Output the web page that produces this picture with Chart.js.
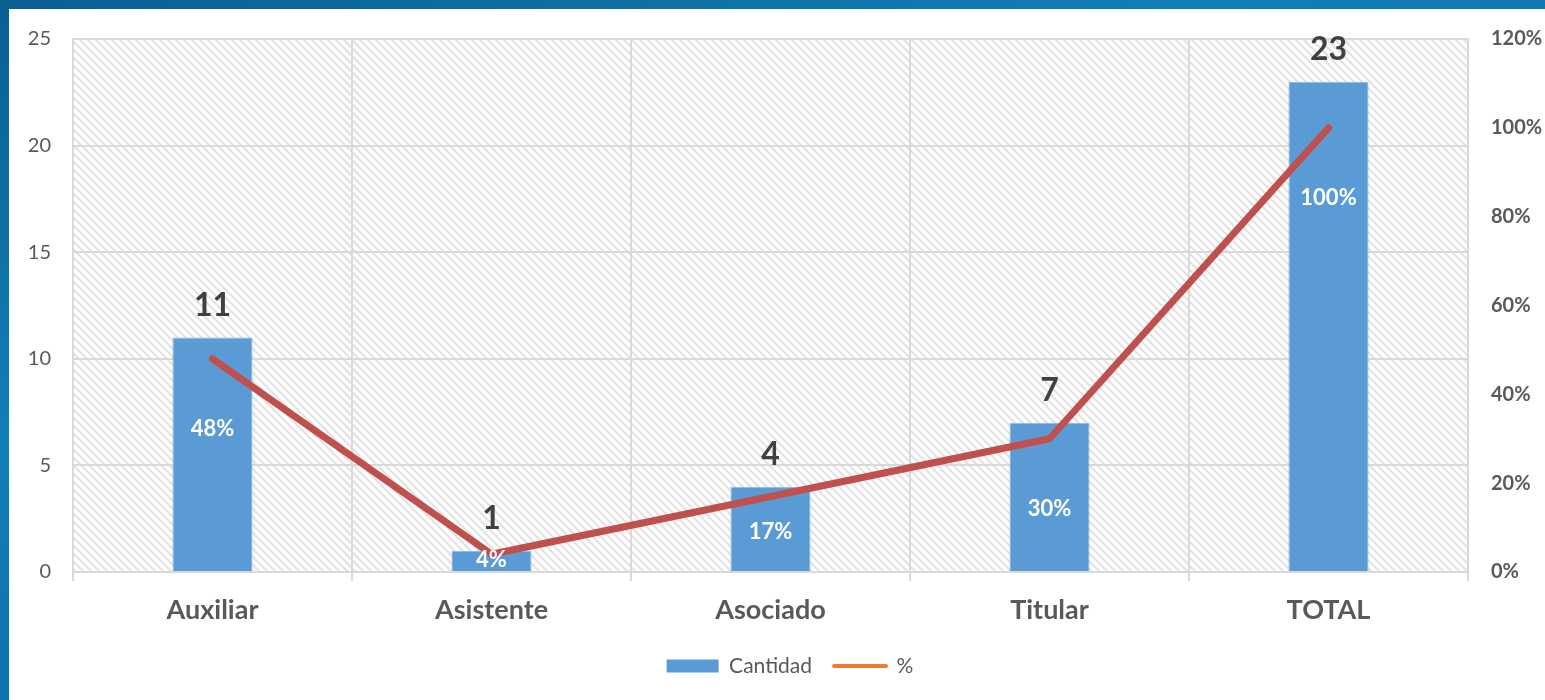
<!DOCTYPE html>
<html>
<head>
<meta charset="utf-8">
<script src="https://cdn.jsdelivr.net/npm/chart.js@4/dist/chart.umd.min.js"></script>
<style>
  html, body { margin: 0; padding: 0; }
  body {
    width: 1545px; height: 700px; overflow: hidden; position: relative;
    background: linear-gradient(160deg, #0a5f93 0%, #1180b4 35%, #0b6aa0 70%, #084f82 100%);
  }
  #panel { position: absolute; left: 9px; top: 9px; width: 1536px; height: 691px; background: #ffffff; }
  canvas { display: block; }
</style>
</head>
<body>
<div id="panel"><canvas id="chart" width="1536" height="691"></canvas></div>
<script>
// data
const categories = ["Auxiliar", "Asistente", "Asociado", "Titular", "TOTAL"];
const cantidad = [11, 1, 4, 7, 23];
const porcentaje = [48, 4, 17, 30, 100];
const leftTicks = [0, 5, 10, 15, 20, 25];
const rightTicks = [0, 20, 40, 60, 80, 100, 120];

const textGray = "#595959";
const gridGray = "#D9D9D9";
const fontName = "Lato, 'Open Sans', sans-serif";

// diagonal hatch behind the plot
const makeHatch = (ctx) => {
  const s = 8;
  const tile = document.createElement("canvas");
  tile.width = s;
  tile.height = s;
  const t = tile.getContext("2d");
  t.strokeStyle = "#E2E2E2";
  t.lineWidth = 2.2;
  t.beginPath();
  t.moveTo(0, 0); t.lineTo(s, s);
  t.moveTo(-2, s - 2); t.lineTo(2, s + 2);
  t.moveTo(s - 2, -2); t.lineTo(s + 2, 2);
  t.stroke();
  return ctx.createPattern(tile, "repeat");
};

const hatchPlugin = {
  id: "hatch",
  afterLayout(chart) {
    // legend sits a little right of centre in the original
    chart.legend.left += 26;
  },
  beforeDraw(chart) {
    const { ctx, chartArea: a } = chart;
    ctx.save();
    ctx.fillStyle = makeHatch(ctx);
    ctx.fillRect(a.left, a.top, a.right - a.left, a.bottom - a.top);
    ctx.restore();
  },
};

// value labels over bars and percentage labels inside them
const labelPlugin = {
  id: "labels",
  afterDatasetsDraw(chart) {
    const { ctx, chartArea: a } = chart;
    const bars = chart.getDatasetMeta(0).data;
    const pts = chart.getDatasetMeta(1).data;
    ctx.save();
    ctx.textAlign = "center";
    ctx.textBaseline = "middle";
    bars.forEach((bar, i) => {
      ctx.fillStyle = "#404040";
      ctx.font = "bold 32px " + fontName;
      ctx.fillText(String(cantidad[i]), bar.x, bar.y - 32);

      let y = Math.min(pts[i].y + 70, a.bottom - 40);
      if (y < pts[i].y + 6) y = a.bottom - 12;
      ctx.fillStyle = "#ffffff";
      ctx.font = "bold 22px " + fontName;
      ctx.fillText(porcentaje[i] + "%", bar.x, y);
    });
    ctx.restore();
  },
};

// vertical axes: fixed width, no extra label padding at top/bottom
const fitVertical = (w) => (s) => {
  s.width = w;
  s.paddingTop = 0;
  s.paddingBottom = 0;
};

const myChart = new Chart(document.getElementById("chart"), {
  type: "bar",
  plugins: [hatchPlugin, labelPlugin],
  data: {
    labels: categories,
    datasets: [
      {
        label: "Cantidad",
        data: cantidad,
        backgroundColor: "#5B9BD5",
        borderColor: "#8DB9E4",
        borderWidth: 1,
        borderSkipped: "bottom",
        barPercentage: 0.287,
        categoryPercentage: 1,
        yAxisID: "y",
        order: 1,
      },
      {
        type: "line",
        label: "%",
        data: porcentaje,
        borderColor: "#C0504D",
        backgroundColor: "#C0504D",
        borderWidth: 7,
        borderCapStyle: "round",
        borderJoinStyle: "round",
        pointRadius: 0,
        tension: 0,
        yAxisID: "y1",
        order: 0,
      },
    ],
  },
  options: {
    responsive: false,
    devicePixelRatio: 1,
    animation: false,
    layout: { padding: { top: 30, bottom: 13.5, left: 0, right: 0 } },
    plugins: {
      tooltip: { enabled: false },
      legend: {
        position: "bottom",
        labels: {
          usePointStyle: true,
          pointStyleWidth: 52,
          boxHeight: 13,
          padding: 22,
          color: textGray,
          font: { family: fontName, size: 21 },
          generateLabels: () => [
            { text: "Cantidad", fillStyle: "#5B9BD5", strokeStyle: "#5B9BD5", lineWidth: 0, pointStyle: "rect", fontColor: textGray, datasetIndex: 0 },
            { text: "%", fillStyle: "#ED7D31", strokeStyle: "#ED7D31", lineWidth: 4, lineCap: "round", pointStyle: "line", fontColor: textGray, datasetIndex: 1 },
          ],
        },
      },
    },
    scales: {
      x: {
        grid: { color: gridGray, lineWidth: 2, offset: true, tickLength: 9 },
        border: { color: gridGray, width: 2 },
        ticks: { color: textGray, padding: 13, font: { family: fontName, size: 27, weight: "700" } },
        afterFit: (s) => { s.height = 61.5; },
      },
      y: {
        position: "left",
        min: 0,
        max: 25,
        afterBuildTicks: (s) => { s.ticks = leftTicks.map((v) => ({ value: v })); },
        grid: { color: gridGray, lineWidth: 2, drawTicks: false },
        border: { color: gridGray, width: 2 },
        ticks: { color: textGray, padding: 22, font: { family: fontName, size: 20 } },
        afterFit: fitVertical(64),
      },
      y1: {
        position: "right",
        min: 0,
        max: 120,
        afterBuildTicks: (s) => { s.ticks = rightTicks.map((v) => ({ value: v })); },
        grid: { display: false, drawTicks: false },
        border: { color: gridGray, width: 2 },
        ticks: {
          color: textGray,
          padding: 23,
          font: { family: fontName, size: 20, weight: "700" },
          callback: (v) => v + "%",
        },
        afterFit: fitVertical(77),
      },
    },
  },
});
</script>
</body>
</html>
